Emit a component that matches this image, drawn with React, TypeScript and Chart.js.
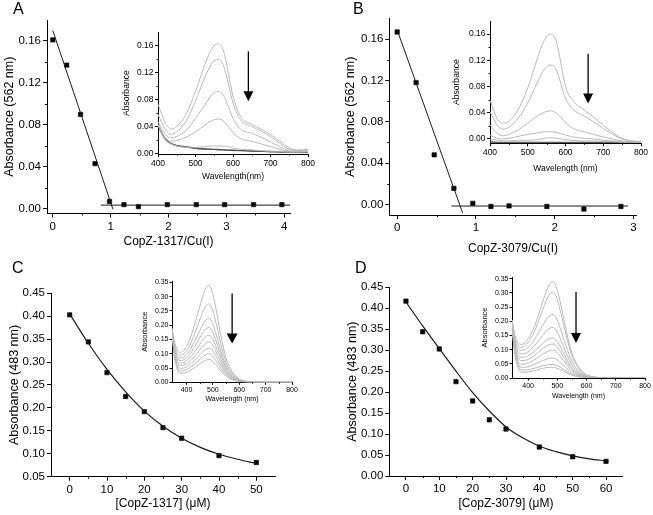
import React, { useEffect, useRef } from 'react';
import { Chart, registerables } from 'chart.js';

Chart.register(...registerables);

const REGULAR = '"Liberation Sans", Arial, sans-serif';

// ---------- Panel A ----------
const A_RATIO = [0, 0.24, 0.48, 0.73, 0.98, 1.23, 1.48, 1.98, 2.48, 2.97, 3.47, 3.96];
const A_ABS = [0.161, 0.137, 0.09, 0.043, 0.007, 0.004, 0.002, 0.004, 0.004, 0.004, 0.004, 0.004];
const A_FIT1_X = [0, 1.04];
const A_FIT1_Y = [0.17, -0.0005];
const A_FIT2_X = [0.83, 4.12];
const A_FIT2_Y = [0.0035, 0.0035];
const A_X_TICKS = [0, 1, 2, 3, 4];
const A_Y_TICKS = [0, 0.04, 0.08, 0.12, 0.16];

// ---------- Panel B ----------
const B_RATIO = [0, 0.24, 0.47, 0.72, 0.96, 1.19, 1.42, 1.9, 2.37, 2.84];
const B_ABS = [0.167, 0.118, 0.048, 0.0155, 0.001, -0.002, -0.0015, -0.002, -0.0045, -0.002];
const B_FIT1_X = [0, 0.83];
const B_FIT1_Y = [0.169, -0.0081];
const B_FIT2_X = [0.69, 2.93];
const B_FIT2_Y = [-0.0016, -0.0016];
const B_X_TICKS = [0, 1, 2, 3];
const B_Y_TICKS = [0, 0.04, 0.08, 0.12, 0.16];

// ---------- Panel C ----------
const C_CONC = [0, 5, 10, 15, 20, 25, 30, 40, 50];
const C_ABS = [0.403, 0.344, 0.277, 0.225, 0.192, 0.157, 0.134, 0.096, 0.081];
const C_FIT_X = [0, 5, 10, 15, 20, 25, 30, 35, 40, 45, 50];
const C_FIT_Y = [0.405, 0.341, 0.284, 0.235, 0.193, 0.16, 0.134, 0.114, 0.099, 0.088, 0.079];
const C_X_TICKS = [0, 10, 20, 30, 40, 50];
const C_Y_TICKS = [0.05, 0.1, 0.15, 0.2, 0.25, 0.3, 0.35, 0.4, 0.45];

// ---------- Panel D ----------
const D_CONC = [0, 5, 10, 15, 20, 25, 30, 40, 50, 60];
const D_ABS = [0.417, 0.344, 0.303, 0.225, 0.179, 0.134, 0.112, 0.069, 0.046, 0.035];
const D_FIT_X = [0, 5, 10, 15, 20, 25, 30, 35, 40, 45, 50, 55, 60];
const D_FIT_Y = [0.415, 0.358, 0.304, 0.25, 0.199, 0.155, 0.117, 0.091, 0.071, 0.058, 0.048, 0.041, 0.036];
const D_X_TICKS = [0, 10, 20, 30, 40, 50, 60];
const D_Y_TICKS = [0, 0.05, 0.1, 0.15, 0.2, 0.25, 0.3, 0.35, 0.4, 0.45];

// ---------- Insets A / B (spectra, nm) ----------
const WL_AB = [400, 420, 435, 450, 475, 500, 525, 545, 560, 575, 600, 620, 650, 675, 700, 725, 750, 775, 800];
const IA_1 = [0.073, 0.045, 0.036, 0.04, 0.058, 0.092, 0.132, 0.157, 0.163, 0.152, 0.085, 0.055, 0.043, 0.036, 0.028, 0.018, 0.008, 0.005, 0.006];
const IA_2 = [0.058, 0.035, 0.028, 0.032, 0.048, 0.078, 0.113, 0.135, 0.14, 0.13, 0.075, 0.05, 0.04, 0.033, 0.025, 0.015, 0.006, 0.004, 0.005];
const IA_3 = [0.047, 0.028, 0.023, 0.025, 0.034, 0.052, 0.072, 0.088, 0.092, 0.086, 0.052, 0.036, 0.03, 0.024, 0.017, 0.01, 0.004, 0.003, 0.004];
const IA_4 = [0.043, 0.023, 0.018, 0.019, 0.024, 0.032, 0.042, 0.049, 0.051, 0.048, 0.031, 0.022, 0.018, 0.014, 0.01, 0.006, 0.003, 0.002, 0.003];
const IA_5 = [0.042, 0.02, 0.014, 0.011, 0.009, 0.009, 0.01, 0.011, 0.011, 0.011, 0.008, 0.006, 0.005, 0.004, 0.003, 0.003, 0.002, 0.002, 0.002];
const IA_6 = [0.042, 0.022, 0.015, 0.012, 0.01, 0.008, 0.007, 0.006, 0.006, 0.005, 0.005, 0.004, 0.004, 0.003, 0.003, 0.002, 0.002, 0.002, 0.001];
const IA_7 = [0.04, 0.02, 0.014, 0.011, 0.009, 0.007, 0.006, 0.006, 0.005, 0.005, 0.004, 0.004, 0.003, 0.003, 0.002, 0.002, 0.002, 0.001, 0.001];

const IB_1 = [0.059, 0.03, 0.024, 0.027, 0.045, 0.078, 0.122, 0.152, 0.16, 0.15, 0.08, 0.058, 0.044, 0.033, 0.021, 0.01, 0.001, -0.003, -0.004];
const IB_2 = [0.042, 0.02, 0.015, 0.018, 0.032, 0.055, 0.086, 0.107, 0.113, 0.106, 0.062, 0.045, 0.035, 0.026, 0.016, 0.007, 0.0, -0.003, -0.004];
const IB_3 = [0.021, 0.008, 0.005, 0.007, 0.014, 0.024, 0.035, 0.041, 0.043, 0.04, 0.025, 0.016, 0.011, 0.007, 0.003, 0.0, -0.003, -0.004, -0.004];
const IB_4 = [0.006, 0.001, 0.0, 0.001, 0.004, 0.007, 0.009, 0.011, 0.011, 0.01, 0.006, 0.003, 0.001, 0.0, -0.002, -0.003, -0.004, -0.004, -0.005];
const IB_5 = [0.0, -0.002, -0.003, -0.003, -0.002, -0.002, -0.001, 0.001, 0.002, 0.001, -0.001, -0.002, -0.003, -0.003, -0.004, -0.004, -0.005, -0.005, -0.005];
const IB_6 = [-0.004, -0.005, -0.005, -0.005, -0.005, -0.005, -0.005, -0.005, -0.005, -0.005, -0.005, -0.005, -0.005, -0.005, -0.005, -0.005, -0.005, -0.005, -0.005];
const IB_7 = [-0.006, -0.006, -0.006, -0.006, -0.006, -0.006, -0.006, -0.006, -0.006, -0.006, -0.006, -0.006, -0.006, -0.006, -0.006, -0.006, -0.006, -0.006, -0.006];

// ---------- Insets C / D ----------
const WL_CD = [345, 355, 365, 375, 390, 410, 430, 450, 465, 478, 485, 495, 510, 530, 550, 575, 600, 625, 650, 700, 750, 800];
const IC_1 = [0.19, 0.14, 0.115, 0.105, 0.112, 0.145, 0.2, 0.265, 0.31, 0.337, 0.34, 0.325, 0.265, 0.165, 0.085, 0.035, 0.012, 0.004, 0.001, 0, 0, 0];
const IC_2 = [0.188, 0.13, 0.104, 0.095, 0.1, 0.125, 0.168, 0.218, 0.253, 0.272, 0.275, 0.263, 0.215, 0.135, 0.07, 0.029, 0.01, 0.003, 0.001, 0, 0, 0];
const IC_3 = [0.185, 0.122, 0.094, 0.085, 0.089, 0.108, 0.142, 0.18, 0.207, 0.222, 0.224, 0.214, 0.175, 0.111, 0.058, 0.024, 0.008, 0.003, 0.001, 0, 0, 0];
const IC_4 = [0.183, 0.115, 0.086, 0.076, 0.079, 0.095, 0.123, 0.155, 0.178, 0.19, 0.192, 0.184, 0.15, 0.096, 0.05, 0.021, 0.007, 0.002, 0.001, 0, 0, 0];
const IC_5 = [0.18, 0.108, 0.078, 0.067, 0.069, 0.083, 0.106, 0.133, 0.152, 0.163, 0.165, 0.158, 0.129, 0.083, 0.043, 0.018, 0.006, 0.002, 0.001, 0, 0, 0];
const IC_6 = [0.178, 0.102, 0.07, 0.058, 0.06, 0.071, 0.091, 0.114, 0.131, 0.14, 0.142, 0.136, 0.111, 0.071, 0.037, 0.015, 0.005, 0.002, 0, 0, 0, 0];
const IC_7 = [0.175, 0.096, 0.062, 0.049, 0.05, 0.06, 0.077, 0.096, 0.11, 0.118, 0.12, 0.115, 0.094, 0.06, 0.031, 0.013, 0.004, 0.001, 0, 0, 0, 0];
const IC_8 = [0.172, 0.09, 0.054, 0.04, 0.041, 0.05, 0.064, 0.08, 0.092, 0.099, 0.1, 0.096, 0.078, 0.05, 0.026, 0.011, 0.004, 0.001, 0, 0, 0, 0];
const IC_9 = [0.17, 0.085, 0.047, 0.032, 0.032, 0.039, 0.051, 0.064, 0.074, 0.079, 0.08, 0.077, 0.063, 0.04, 0.021, 0.009, 0.003, 0.001, 0, 0, 0, 0];

const ID_1 = [0.205, 0.15, 0.126, 0.118, 0.125, 0.155, 0.205, 0.268, 0.312, 0.337, 0.34, 0.325, 0.268, 0.17, 0.088, 0.036, 0.012, 0.004, 0.001, 0, 0, 0];
const ID_2 = [0.203, 0.142, 0.116, 0.108, 0.114, 0.14, 0.184, 0.24, 0.279, 0.3, 0.303, 0.29, 0.238, 0.152, 0.078, 0.032, 0.011, 0.004, 0.001, 0, 0, 0];
const ID_3 = [0.2, 0.132, 0.105, 0.097, 0.1, 0.118, 0.15, 0.185, 0.21, 0.222, 0.224, 0.214, 0.176, 0.112, 0.058, 0.024, 0.008, 0.003, 0.001, 0, 0, 0];
const ID_4 = [0.197, 0.125, 0.095, 0.085, 0.087, 0.101, 0.124, 0.15, 0.168, 0.177, 0.178, 0.17, 0.14, 0.089, 0.046, 0.019, 0.006, 0.002, 0.001, 0, 0, 0];
const ID_5 = [0.194, 0.117, 0.084, 0.073, 0.074, 0.085, 0.102, 0.121, 0.134, 0.14, 0.141, 0.135, 0.111, 0.071, 0.037, 0.015, 0.005, 0.002, 0, 0, 0, 0];
const ID_6 = [0.19, 0.11, 0.074, 0.061, 0.062, 0.071, 0.086, 0.103, 0.114, 0.119, 0.12, 0.115, 0.094, 0.06, 0.031, 0.013, 0.004, 0.001, 0, 0, 0, 0];
const ID_7 = [0.187, 0.102, 0.064, 0.049, 0.049, 0.057, 0.07, 0.084, 0.093, 0.097, 0.098, 0.094, 0.077, 0.049, 0.025, 0.01, 0.003, 0.001, 0, 0, 0, 0];
const ID_8 = [0.183, 0.095, 0.054, 0.038, 0.038, 0.043, 0.052, 0.061, 0.067, 0.07, 0.07, 0.067, 0.055, 0.035, 0.018, 0.007, 0.002, 0.001, 0, 0, 0, 0];
const ID_9 = [0.18, 0.088, 0.046, 0.029, 0.028, 0.031, 0.037, 0.043, 0.046, 0.048, 0.048, 0.046, 0.038, 0.024, 0.012, 0.005, 0.002, 0, 0, 0, 0, 0];
const ID_10 = [0.177, 0.082, 0.039, 0.021, 0.02, 0.023, 0.028, 0.034, 0.037, 0.038, 0.038, 0.036, 0.03, 0.019, 0.01, 0.004, 0.001, 0, 0, 0, 0, 0];

const WL_TICKS_AB = [400, 500, 600, 700, 800];
const ABS_TICKS_AB = [0, 0.04, 0.08, 0.12, 0.16];
const WL_TICKS_CD = [400, 500, 600, 700, 800];
const ABS_TICKS_CD = [0, 0.05, 0.1, 0.15, 0.2, 0.25, 0.3, 0.35];

// ---------- helpers ----------
const zip = (xs: number[], ys: number[]) => xs.map((x, i) => ({ x, y: ys[i] }));

const pointsDs = (xs: number[], ys: number[]) => ({
  data: zip(xs, ys),
  showLine: false,
  pointStyle: 'rect',
  pointRadius: 3.1,
  backgroundColor: '#000',
  borderColor: '#000',
  borderWidth: 0.6,
});

const lineDs = (xs: number[], ys: number[], color = '#1a1a1a', width = 1, smooth = false) => ({
  data: zip(xs, ys),
  showLine: true,
  pointRadius: 0,
  borderColor: color,
  borderWidth: width,
  backgroundColor: color,
  cubicInterpolationMode: smooth ? 'monotone' : 'default',
  tension: 0,
  fill: false,
});

const GRAY = '#b9b9b9';
const DARK = '#4a4a4a';

type AxisSpec = {
  min: number; max: number; ticks: number[]; minor: number[]; decimals: number;
  title: string; titleSize: number; titlePad: number;
  tickSize: number; size: number; tickLen: number; labelPad: number;
};

type Spec = {
  key: string; left: number; top: number; width: number; height: number;
  padTop: number; padRight: number; minorLen: number;
  x: AxisSpec; y: AxisSpec; datasets: any[];
  arrow?: { x: number; yTop: number; yTip: number; head: number; halfW: number };
};

const minorTickPlugin = {
  id: 'minorTicks',
  afterDraw(chart: any, _a: any, opts: any) {
    const ctx = chart.ctx;
    const xs = chart.scales.x;
    const ys = chart.scales.y;
    const len = opts.len || 2;
    ctx.save();
    ctx.strokeStyle = '#000';
    ctx.lineWidth = 1;
    (opts.xv || []).forEach((v: number) => {
      const px = Math.round(xs.getPixelForValue(v)) + 0.5;
      ctx.beginPath();
      ctx.moveTo(px, chart.chartArea.bottom);
      ctx.lineTo(px, chart.chartArea.bottom + len);
      ctx.stroke();
    });
    (opts.yv || []).forEach((v: number) => {
      const py = Math.round(ys.getPixelForValue(v)) + 0.5;
      ctx.beginPath();
      ctx.moveTo(chart.chartArea.left, py);
      ctx.lineTo(chart.chartArea.left - len, py);
      ctx.stroke();
    });
    ctx.restore();
  },
};

const arrowPlugin = {
  id: 'arrowMark',
  afterDatasetsDraw(chart: any, _a: any, opts: any) {
    if (!opts || opts.x == null) return;
    const ctx = chart.ctx;
    const px = chart.scales.x.getPixelForValue(opts.x);
    const top = chart.scales.y.getPixelForValue(opts.yTop);
    const tip = chart.scales.y.getPixelForValue(opts.yTip);
    ctx.save();
    ctx.strokeStyle = '#000';
    ctx.fillStyle = '#000';
    ctx.lineWidth = 1.3;
    ctx.beginPath();
    ctx.moveTo(px, top);
    ctx.lineTo(px, tip - opts.head + 1);
    ctx.stroke();
    ctx.beginPath();
    ctx.moveTo(px - opts.halfW, tip - opts.head);
    ctx.lineTo(px + opts.halfW, tip - opts.head);
    ctx.lineTo(px, tip);
    ctx.closePath();
    ctx.fill();
    ctx.restore();
  },
};

function axisOptions(a: AxisSpec, horizontal: boolean) {
  return {
    type: 'linear',
    min: a.min,
    max: a.max,
    afterBuildTicks: (s: any) => {
      s.ticks = a.ticks.map((v) => ({ value: v }));
    },
    afterFit: (s: any) => {
      if (horizontal) s.height = a.size;
      else s.width = a.size;
    },
    ticks: {
      color: '#000',
      font: { family: REGULAR, size: a.tickSize },
      padding: a.labelPad,
      autoSkip: false,
      maxRotation: 0,
      minRotation: 0,
      callback: (v: any) => Number(v).toFixed(a.decimals),
    },
    grid: {
      display: true,
      drawOnChartArea: false,
      drawTicks: true,
      tickLength: a.tickLen,
      color: '#000',
      lineWidth: 1,
    },
    border: { display: true, color: '#000', width: 1 },
    title: {
      display: true,
      text: a.title,
      color: '#000',
      font: { family: REGULAR, size: a.titleSize, lineHeight: 1.2 },
      padding: { top: a.titlePad, bottom: a.titlePad },
    },
  };
}

const mainAxis = (o: Partial<AxisSpec>): AxisSpec => ({
  min: 0, max: 1, ticks: [], minor: [], decimals: 0, title: '', titleSize: 12,
  titlePad: 2, tickSize: 11.5, size: 40, tickLen: 4, labelPad: 2, ...o,
} as AxisSpec);

const insetAxis = (o: Partial<AxisSpec>): AxisSpec => ({
  min: 0, max: 1, ticks: [], minor: [], decimals: 0, title: '', titleSize: 8.5,
  titlePad: 2, tickSize: 8.5, size: 30, tickLen: 3, labelPad: 1.5, ...o,
} as AxisSpec);

const SPECS: Spec[] = [
  {
    key: 'A', left: 0, top: 0, width: 305, height: 258, padTop: 20, padRight: 15, minorLen: 2,
    x: mainAxis({ min: -0.1, max: 4.1, ticks: A_X_TICKS, minor: [0.5, 1.5, 2.5, 3.5], title: 'CopZ-1317/Cu(I)', titlePad: 9, size: 44.5 }),
    y: mainAxis({ min: -0.0045, max: 0.18, ticks: A_Y_TICKS, minor: [0.02, 0.06, 0.1, 0.14], decimals: 2, title: 'Absorbance (562 nm)', titleSize: 12.5, titlePad: 2.5, size: 47 }),
    datasets: [lineDs(A_FIT1_X, A_FIT1_Y), lineDs(A_FIT2_X, A_FIT2_Y), pointsDs(A_RATIO, A_ABS)],
  },
  {
    key: 'B', left: 343, top: 0, width: 310, height: 258, padTop: 18.6, padRight: 16.3, minorLen: 2,
    x: mainAxis({ min: -0.1, max: 3.04, ticks: B_X_TICKS, minor: [0.5, 1.5, 2.5], title: 'CopZ-3079/Cu(I)', titlePad: 2.5, size: 43 }),
    y: mainAxis({ min: -0.0103, max: 0.18, ticks: B_Y_TICKS, minor: [0.02, 0.06, 0.1, 0.14], decimals: 2, title: 'Absorbance (562 nm)', titleSize: 12.5, titlePad: 0, size: 46.3 }),
    datasets: [lineDs(B_FIT1_X, B_FIT1_Y), lineDs(B_FIT2_X, B_FIT2_Y), pointsDs(B_RATIO, B_ABS)],
  },
  {
    key: 'C', left: 0, top: 260, width: 300, height: 255, padTop: 33.3, padRight: 25, minorLen: 2,
    x: mainAxis({ min: -5, max: 55, ticks: C_X_TICKS, minor: [5, 15, 25, 35, 45], title: '[CopZ-1317] (\u03bcM)', titlePad: 4.2, size: 38.3 }),
    y: mainAxis({ min: 0.05, max: 0.45, ticks: C_Y_TICKS, minor: [], decimals: 2, title: 'Absorbance (483 nm)', titleSize: 12.5, titlePad: 7.3, size: 51 }),
    datasets: [lineDs(C_FIT_X, C_FIT_Y, '#1a1a1a', 1.2, true), pointsDs(C_CONC, C_ABS)],
  },
  {
    key: 'D', left: 343, top: 260, width: 310, height: 255, padTop: 27.3, padRight: 30.3, minorLen: 2,
    x: mainAxis({ min: -5, max: 65, ticks: D_X_TICKS, minor: [5, 15, 25, 35, 45, 55], title: '[CopZ-3079] (\u03bcM)', titlePad: 4.2, size: 39 }),
    y: mainAxis({ min: 0, max: 0.45, ticks: D_Y_TICKS, minor: [], decimals: 2, title: 'Absorbance (483 nm)', titleSize: 12.5, titlePad: 2.3, size: 46.3 }),
    datasets: [lineDs(D_FIT_X, D_FIT_Y, '#1a1a1a', 1.2, true), pointsDs(D_CONC, D_ABS)],
  },
  {
    key: 'iA', left: 118, top: 22, width: 200, height: 165, padTop: 10.3, padRight: 10, minorLen: 1.5,
    x: insetAxis({ min: 400, max: 800, ticks: WL_TICKS_AB, minor: [450, 550, 650, 750], title: 'Wavelength(nm)', titlePad: 5.3, size: 33 }),
    y: insetAxis({ min: -0.001, max: 0.18, ticks: ABS_TICKS_AB, minor: [0.02, 0.06, 0.1, 0.14], decimals: 2, title: 'Absorbance', titleSize: 8.6, titlePad: 3.8, size: 40 }),
    datasets: [
      lineDs(WL_AB, IA_1, GRAY, 1, true), lineDs(WL_AB, IA_2, GRAY, 1, true), lineDs(WL_AB, IA_3, GRAY, 1, true),
      lineDs(WL_AB, IA_4, GRAY, 1, true), lineDs(WL_AB, IA_5, GRAY, 1, true),
      lineDs(WL_AB, IA_6, DARK, 1, true), lineDs(WL_AB, IA_7, DARK, 1, true),
    ],
    arrow: { x: 641, yTop: 0.1516, yTip: 0.0775, head: 10, halfW: 5 },
  },
  {
    key: 'iB', left: 448, top: 12, width: 205, height: 168, padTop: 9, padRight: 12, minorLen: 1.5,
    x: insetAxis({ min: 400, max: 800, ticks: WL_TICKS_AB, minor: [450, 550, 650, 750], title: 'Wavelength (nm)', titlePad: 6.3, size: 36.7 }),
    y: insetAxis({ min: -0.0066, max: 0.18, ticks: ABS_TICKS_AB, minor: [0.02, 0.06, 0.1, 0.14], decimals: 2, title: 'Absorbance', titleSize: 8.6, titlePad: 3.5, size: 42 }),
    datasets: [
      lineDs(WL_AB, IB_1, GRAY, 1, true), lineDs(WL_AB, IB_2, GRAY, 1, true), lineDs(WL_AB, IB_3, GRAY, 1, true),
      lineDs(WL_AB, IB_4, GRAY, 1, true), lineDs(WL_AB, IB_5, GRAY, 1, true),
      lineDs(WL_AB, IB_6, DARK, 1, true), lineDs(WL_AB, IB_7, DARK, 1, true),
    ],
    arrow: { x: 660, yTop: 0.13, yTip: 0.0543, head: 10, halfW: 5 },
  },
  {
    key: 'iC', left: 136, top: 272, width: 165, height: 135, padTop: 9, padRight: 9, minorLen: 1.5,
    x: insetAxis({ min: 345, max: 800, ticks: WL_TICKS_CD, minor: [450, 550, 650, 750], title: 'Wavelength (nm)', titleSize: 7, tickSize: 7, titlePad: 3.5, size: 24.7, tickLen: 2.5, labelPad: 1 }),
    y: insetAxis({ min: 0, max: 0.355, ticks: ABS_TICKS_CD, minor: [], decimals: 2, title: 'Absorbance', titleSize: 7.5, tickSize: 7, titlePad: 4.5, size: 36, tickLen: 2.5, labelPad: 1 }),
    datasets: [IC_1, IC_2, IC_3, IC_4, IC_5, IC_6, IC_7, IC_8, IC_9].map((c) => lineDs(WL_CD, c, GRAY, 1, true)),
    arrow: { x: 573, yTop: 0.311, yTip: 0.136, head: 10, halfW: 5.5 },
  },
  {
    key: 'iD', left: 476, top: 268, width: 177, height: 142, padTop: 9, padRight: 8, minorLen: 1.5,
    x: insetAxis({ min: 345, max: 800, ticks: WL_TICKS_CD, minor: [450, 550, 650, 750], title: 'Wavelength (nm)', titleSize: 7, tickSize: 7, titlePad: 10.2, size: 32, tickLen: 2.5, labelPad: 1 }),
    y: insetAxis({ min: 0, max: 0.356, ticks: ABS_TICKS_CD, minor: [], decimals: 2, title: 'Absorbance', titleSize: 7.5, tickSize: 7, titlePad: 4.5, size: 36, tickLen: 2.5, labelPad: 1 }),
    datasets: [ID_1, ID_2, ID_3, ID_4, ID_5, ID_6, ID_7, ID_8, ID_9, ID_10].map((c) => lineDs(WL_CD, c, GRAY, 1, true)),
    arrow: { x: 564, yTop: 0.303, yTip: 0.123, head: 10, halfW: 5 },
  },
];

function ChartBox({ spec }: { spec: Spec }) {
  const ref = useRef<HTMLCanvasElement | null>(null);
  useEffect(() => {
    if (!ref.current) return;
    const chart = new Chart(ref.current, {
      type: 'scatter',
      data: { datasets: spec.datasets },
      options: {
        animation: false,
        responsive: false,
        maintainAspectRatio: false,
        devicePixelRatio: 1,
        events: [],
        layout: { padding: { left: 0, top: spec.padTop, right: spec.padRight, bottom: 0 } },
        plugins: {
          legend: { display: false },
          tooltip: { enabled: false },
          title: { display: false },
          minorTicks: { xv: spec.x.minor, yv: spec.y.minor, len: spec.minorLen },
          arrowMark: spec.arrow || {},
        } as any,
        scales: {
          x: axisOptions(spec.x, true) as any,
          y: axisOptions(spec.y, false) as any,
        },
      },
      plugins: [minorTickPlugin as any, arrowPlugin as any],
    });
    return () => chart.destroy();
  }, [spec]);
  return (
    <canvas
      ref={ref}
      width={spec.width}
      height={spec.height}
      style={{ position: 'absolute', left: spec.left, top: spec.top, width: spec.width, height: spec.height }}
    />
  );
}

const LETTERS = [
  { t: 'A', left: 13, top: 1 },
  { t: 'B', left: 353, top: 1 },
  { t: 'C', left: 12, top: 260 },
  { t: 'D', left: 355, top: 260 },
];

export default function App() {
  return (
    <div style={{ position: 'fixed', left: 0, top: 0, width: 653, height: 515, background: '#fff', overflow: 'hidden' }}>
      {SPECS.map((s) => (
        <ChartBox key={s.key} spec={s} />
      ))}
      {LETTERS.map((l) => (
        <div
          key={l.t}
          style={{ position: 'absolute', left: l.left, top: l.top, fontFamily: REGULAR, fontSize: 16, lineHeight: 1, color: '#000' }}
        >
          {l.t}
        </div>
      ))}
    </div>
  );
}
